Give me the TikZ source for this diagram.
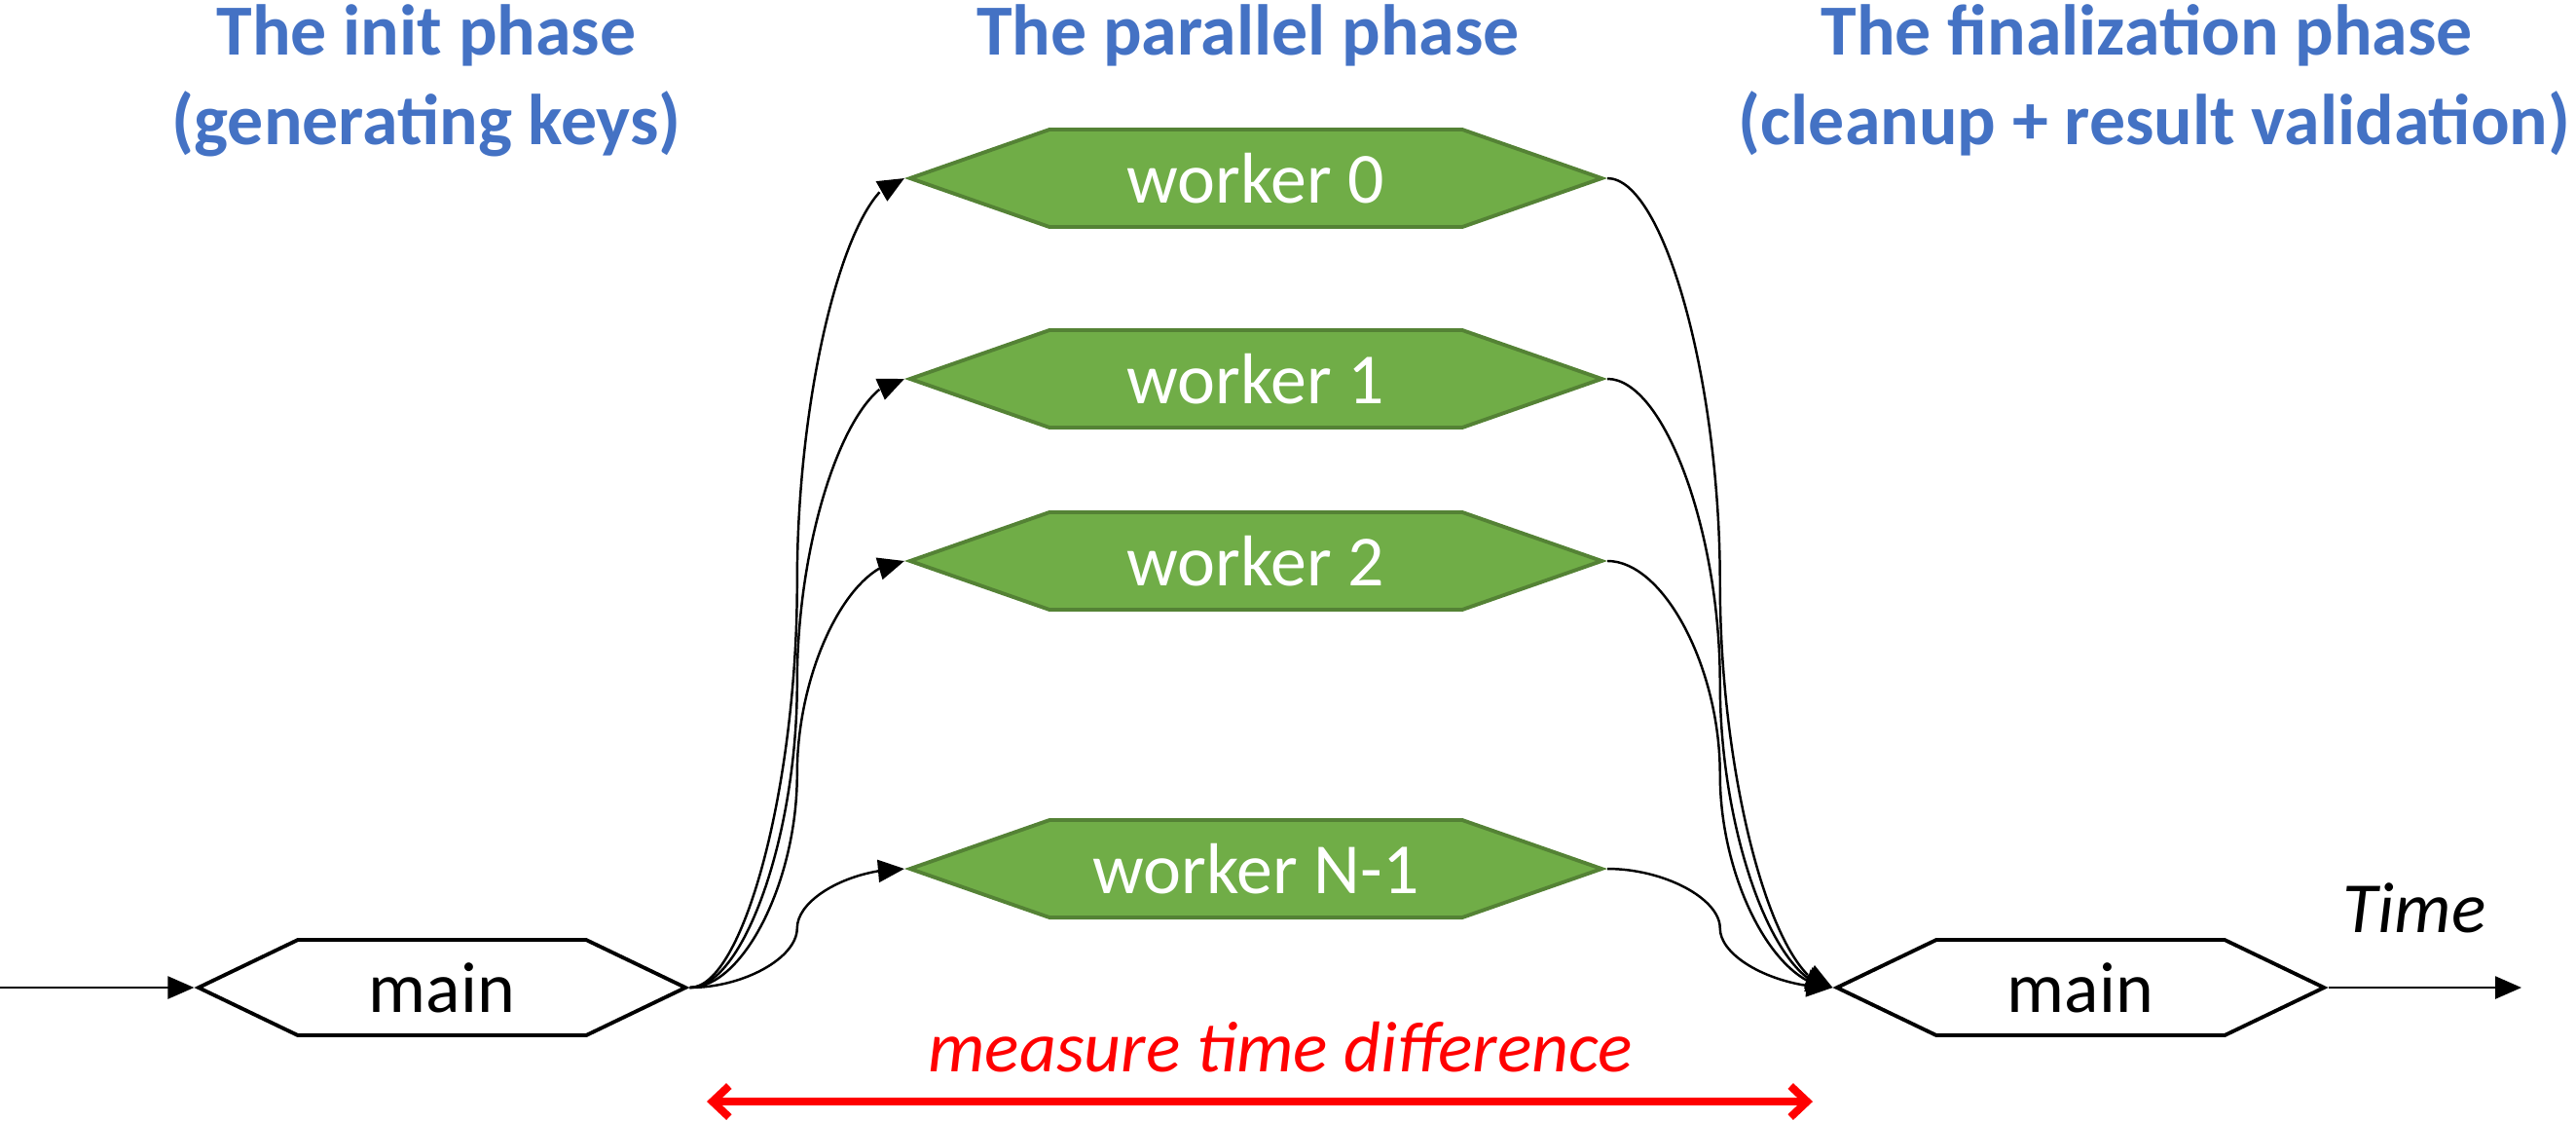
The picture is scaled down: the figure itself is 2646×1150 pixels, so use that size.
\documentclass[tikz,border=0pt]{standalone}
\usepackage{fontspec}
\setmainfont{Carlito}
\usepackage{xcolor}
\usepackage{tikz}
\usetikzlibrary{shapes.symbols, arrows.meta, bending, positioning, calc}
\definecolor{titleblue}{HTML}{4472C4}
\definecolor{workerfill}{HTML}{70AD47}
\definecolor{workerline}{HTML}{548235}

\begin{document}
\begin{tikzpicture}[x=0.01cm, y=-0.01cm]
\tikzstyle{phase} = [font=\bfseries\fontsize{21}{25}\selectfont, text=titleblue, anchor=base, inner sep=0pt]
\tikzstyle{mainbox} = [signal, signal to=west and east, signal pointer angle=51.3, draw, line width=1.1pt, minimum width=5cm, minimum height=0.98cm, inner sep=0pt, font=\fontsize{21}{25}\selectfont]
\tikzstyle{worker} = [signal, signal to=west and east, signal pointer angle=38.5, fill=workerfill, draw=workerline, line width=1.1pt, text=white, minimum width=7.1cm, minimum height=1cm, inner sep=0pt, font=\fontsize{21}{25}\selectfont]
\tikzstyle{conn} = [line width=0.7pt, -{Triangle[length=0.27cm, width=0.23cm, flex]}]

\useasboundingbox (0,0) rectangle (2646,1150);

% phase titles
\node (inittitle) [phase] at (438,56) {The init phase};
\node (initsub) [phase] at (438,148) {(generating keys)};
\node (partitle) [phase] at (1282,56) {The parallel phase};
\node (fintitle) [phase] at (2205,56) {The finalization phase};
\node (finsub) [phase] at (2213,148) {(cleanup + result validation)};

% main thread and workers
\node (mainL) [mainbox] at (454,1014) {main};
\node (mainR) [mainbox] at (2137,1014) {main};
\node (w0) [worker] at (1290,183) {worker 0};
\node (w1) [worker, below=1.02cm of w0] {worker 1};
\node (w2) [worker, below=0.83cm of w1] {worker 2};
\node (wn) [worker, below=2.12cm of w2] {worker N-1};

% time axis
\coordinate (tstart) at (0,1014);
\coordinate (tend) at (2590,1014);
\draw[conn] (tstart) -- (mainL.west);
\draw[conn] (mainR.east) -- (tend);
\node (time) [anchor=base, inner sep=0pt, font=\itshape\fontsize{21}{25}\selectfont] at (2480,957) {Time};

% curved connectors, two quarter bends each
\foreach \w in {w0,w1,w2,wn} {
  \coordinate (a) at (mainL.east);
  \coordinate (b) at (\w.west);
  \coordinate (m) at ($(a)!0.5!(b)$);
  \coordinate (q1) at ($(a)!0.25!(b)$);
  \coordinate (q3) at ($(a)!0.75!(b)$);
  \draw[conn] (a) .. controls (q1 |- a) and (m |- q1) .. (m) .. controls (m |- q3) and (q3 |- b) .. (b);
  \coordinate (a) at (\w.east);
  \coordinate (b) at (mainR.west);
  \coordinate (m) at ($(a)!0.5!(b)$);
  \coordinate (q1) at ($(a)!0.25!(b)$);
  \coordinate (q3) at ($(a)!0.75!(b)$);
  \draw[conn] (a) .. controls (q1 |- a) and (m |- q1) .. (m) .. controls (m |- q3) and (q3 |- b) .. (b);
}

% measured span
\coordinate (spanL) at (726,1131);
\coordinate (spanR) at (1862,1131);
\draw[red, line width=0.08cm, {Straight Barb[length=0.17cm, width=0.32cm]}-{Straight Barb[length=0.17cm, width=0.32cm]}] (spanL) -- (spanR);
\node (measure) [anchor=base, inner sep=0pt, text=red, font=\itshape\fontsize{21}{25}\selectfont] at (1315,1100) {measure time difference};

\end{tikzpicture}
\end{document}
